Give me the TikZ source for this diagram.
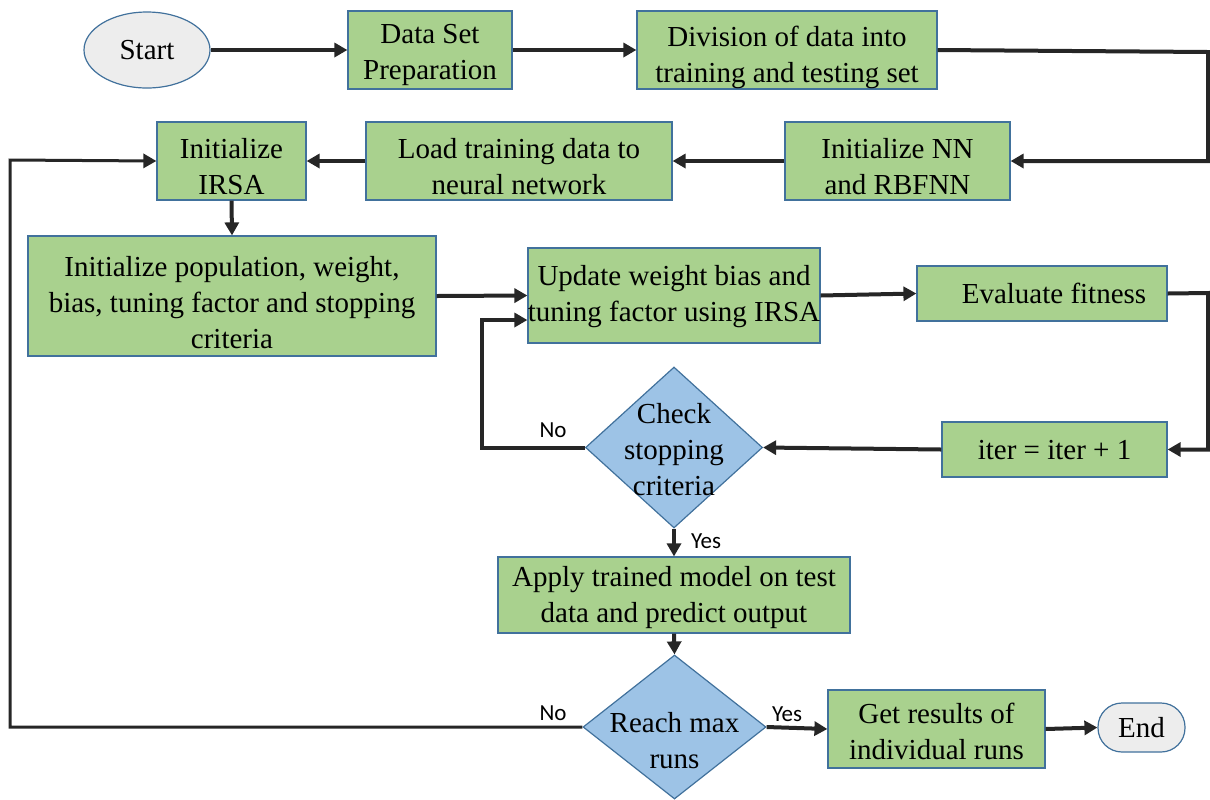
\documentclass[tikz,border=0pt]{standalone}
\usepackage{fontspec}
\setmainfont{Liberation Serif}
\newfontfamily\boxfont{Liberation Serif}
\newfontfamily\labfont{Carlito}
\usetikzlibrary{shapes.geometric,arrows.meta}
\definecolor{boxgreen}{HTML}{A9D18E}
\definecolor{boxedge}{HTML}{41719C}
\definecolor{diafill}{HTML}{9DC3E6}
\definecolor{termfill}{HTML}{EDEDED}
\definecolor{arrowcol}{HTML}{262626}
\begin{document}
\begin{tikzpicture}[x=0.5pt,y=-0.5pt,
  txt/.style={font=\boxfont\fontsize{14.5}{18}\selectfont, align=center, inner sep=0pt},
  procbox/.style={draw=boxedge, line width=0.6pt, fill=boxgreen, inner sep=0pt},
  decision/.style={diamond, draw=boxedge, line width=0.6pt, fill=diafill, inner sep=0pt},
  terminal/.style={txt, draw=boxedge, line width=0.6pt, fill=termfill, inner sep=0pt},
  conn/.style={draw=arrowcol, line width=2pt, -{Triangle[length=6.5pt,width=7pt]}},
  connplain/.style={draw=black, line width=1.5pt},
  lab/.style={font=\labfont\fontsize{11.5}{13}\selectfont, inner sep=0pt}
]
\useasboundingbox (0,0) rectangle (1210,799);

% nodes
\node[terminal, ellipse, minimum width=63pt, minimum height=38pt] (start) at (147,50) {Start};
\node[procbox, minimum width=82pt, minimum height=39pt,
  label={[txt,yshift=-2.5pt]center:Data Set\\Preparation}] (dsp) at (430,50) {};
\node[procbox, minimum width=150pt, minimum height=39pt,
  label={[txt,yshift=-3.5pt]center:Division of data into\\training and testing set}] (div) at (787,50) {};
\node[procbox, minimum width=112.5pt, minimum height=39pt,
  label={[txt,yshift=-3pt]center:Initialize NN\\and RBFNN}] (inn) at (897.5,161) {};
\node[procbox, minimum width=153pt, minimum height=39pt,
  label={[txt,yshift=-3pt]center:Load training data to\\neural network}] (load) at (519,161) {};
\node[procbox, minimum width=74.5pt, minimum height=39pt,
  label={[txt,yshift=-3pt]center:Initialize\\IRSA}] (irsa) at (231.5,161) {};
\node[procbox, minimum width=204pt, minimum height=60pt,
  label={[txt,yshift=-3.5pt]center:Initialize population, weight,\\bias, tuning factor and stopping\\criteria}] (pop) at (232,296) {};
\node[procbox, minimum width=146pt, minimum height=47.5pt,
  label={[txt,yshift=-0.5pt]center:Update weight bias and\\tuning factor using IRSA}] (upd) at (674,295.5) {};
\node[procbox, minimum width=125pt, minimum height=27.5pt,
  label={[txt,xshift=6pt]center:Evaluate fitness}] (eval) at (1042,293.5) {};
\node[procbox, minimum width=112.5pt, minimum height=27.5pt,
  label={[txt,yshift=-0.5pt]center:iter = iter + 1}] (iter) at (1054.5,449.5) {};
\node[decision, minimum width=88.5pt, minimum height=80.5pt,
  label={[txt,yshift=-1pt]center:Check\\stopping\\criteria}] (check) at (674,447.5) {};
\node[procbox, minimum width=176pt, minimum height=38pt,
  label={[txt,yshift=-1.5pt]center:Apply trained model on test\\data and predict output}] (apply) at (674,595) {};
\node[decision, minimum width=91.5pt, minimum height=72pt,
  label={[txt,yshift=-7pt]center:Reach max\\runs}] (reach) at (674.5,727) {};
\node[procbox, minimum width=108.5pt, minimum height=39pt,
  label={[txt,yshift=-1pt]center:Get results of\\individual runs}] (get) at (936.5,729) {};
\node[terminal, rounded corners=12pt, minimum width=43.5pt, minimum height=24.5pt] (end) at (1141.5,727.5) {End};

% helper coordinates
\coordinate (rtop) at (1208,52);
\coordinate (rmid) at (1208,293);
\coordinate (nol) at (482,320);
\coordinate (lft) at (10,160);

% connectors
\draw[conn] (start.east) -- (dsp.west);
\draw[conn] (dsp.east) -- (div.west);
\draw[conn] (div.east) -- (rtop) -- (rtop |- inn.east) -- (inn.east);
\draw[conn] (inn.west) -- (load.east);
\draw[conn] (load.west) -- (irsa.east);
\draw[conn] (irsa.south) -- (pop.north);
\draw[conn] (pop.east) -- (upd.west);
\draw[conn] (upd.east) -- (eval.west);
\draw[conn] (eval.east) -- (rmid) -- (rmid |- iter.east) -- (iter.east);
\draw[conn] (iter.west) -- (check.east);
\draw[conn] (check.west) -- (check.west -| nol) -- (nol) -- ([yshift=-12.25pt]upd.west);
\draw[conn] (check.south) -- (apply.north);
\draw[conn] (apply.south) -- (reach.north);
\draw[conn] (reach.east) -- (get.west);
\draw[conn] (get.east) -- (end.west);
\draw[connplain, -{Triangle[length=6.5pt,width=7pt]}, draw=arrowcol] (reach.west) -- (reach.west -| lft) -- (lft) -- (irsa.west);

% labels
\node[lab] (l1) at (553,430) {No};
\node[lab] (l2) at (706,541) {Yes};
\node[lab] (l3) at (553,713) {No};
\node[lab] (l4) at (787,714) {Yes};
\end{tikzpicture}
\end{document}
